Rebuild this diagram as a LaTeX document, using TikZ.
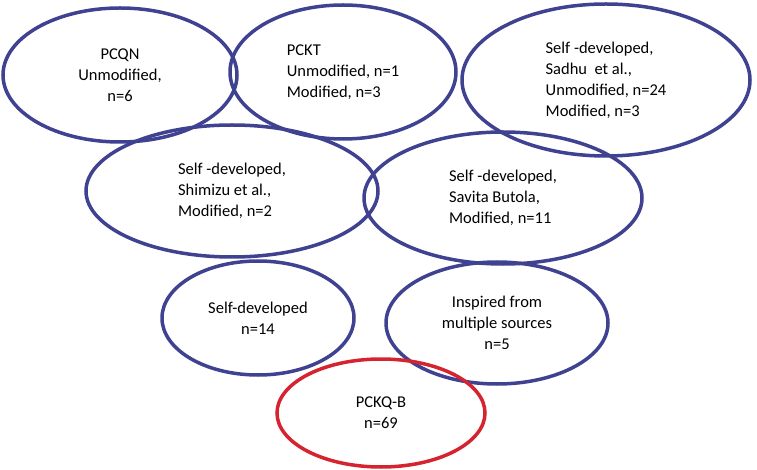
\documentclass[tikz,border=0pt]{standalone}
\usepackage{fontspec}
\setmainfont{Carlito}
\usetikzlibrary{shapes.geometric}
\definecolor{ringblue}{HTML}{3F4290}
\definecolor{ringred}{HTML}{D5232F}
\begin{document}
\begin{tikzpicture}[
    x=1pt, y=-1pt,
    % ellipse style for the sources
    srcring/.style={
        ellipse,
        draw=ringblue,
        line width=3.5pt,
        inner sep=0pt,
        align=center,
        font=\fontsize{16.5}{21}\selectfont
    },
    totalring/.style={srcring, draw=ringred}
]
    \useasboundingbox (0,0) rectangle (757,470);

    % Top row
    \node[srcring, minimum width=234, minimum height=134] (pcqn) at (120,75) {PCQN\\Unmodified,\\n=6};
    \node[srcring, align=left, minimum width=226, minimum height=134] (pckt) at (343,72) {PCKT\\Unmodified, n=1\\Modified, n=3};
    \node[srcring, align=left, minimum width=288, minimum height=152] (sadhu) at (606,80) {Self -developed,\\Sadhu\ \ et al.,\\Unmodified, n=24\\Modified, n=3};

    % Middle row
    \node[srcring, align=left, minimum width=292, minimum height=132] (shimizu) at (232,191) {Self -developed,\\Shimizu et al.,\\Modified, n=2};
    \node[srcring, align=left, minimum width=278, minimum height=132] (savita) at (503,198) {Self -developed,\\Savita Butola,\\Modified, n=11};

    % Lower row
    \node[srcring, minimum width=192, minimum height=114] (selfdev) at (258,318) {Self-developed\\n=14};
    \node[srcring, minimum width=222, minimum height=122] (inspired) at (497,323) {Inspired from\\multiple sources\\n=5};

    % Total
    \node[totalring, minimum width=208, minimum height=108] (total) at (381,413) {PCKQ-B\\n=69};

\end{tikzpicture}
\end{document}
